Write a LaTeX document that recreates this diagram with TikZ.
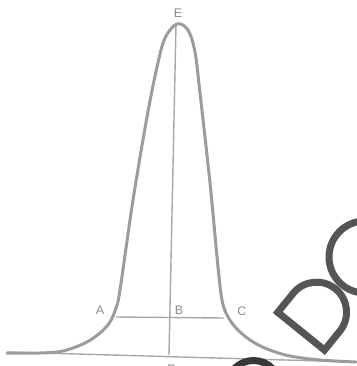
\documentclass[tikz,border=0pt]{standalone}
\usepackage{fontspec}
\setmainfont{Liberation Sans}
\definecolor{curvegray}{HTML}{9C9C9C}
\definecolor{linegray}{HTML}{A8A8A8}
\definecolor{labelgray}{HTML}{8C8C8C}
\definecolor{wmgray}{HTML}{555555}
\definecolor{wmdark}{HTML}{383838}
\begin{document}
\begin{tikzpicture}[x=1pt,y=-1pt,
  curveline/.style={draw=curvegray,line width=3pt,line cap=round,line join=round},
  thinline/.style={draw=linegray,line width=1.4pt},
  ptlabel/.style={text=labelgray,font=\fontsize{12.5}{14}\selectfont,inner sep=0pt},
  watermark/.style={draw=wmgray,line width=7pt,line join=miter}]
\useasboundingbox[fill=white] (0,0) rectangle (356,366);

% named points
\coordinate (top) at (176,25);
\coordinate (bot) at (169,355);
\coordinate (pa) at (116,317);
\coordinate (pc) at (224,318);
\coordinate (bl) at (7,352);
\coordinate (br) at (356,362);

% baseline, axis and width line
\draw[thinline] (bl) -- (br);
\draw[thinline] (top) -- (bot);
\draw[thinline] (pa) -- (pc);

% peak curve
\draw[curveline] plot[smooth,tension=0.55] coordinates {
 (7,353) (40,353) (63,351) (85,343) (100,333) (110,322) (116,308) (120,290)
 (133,200) (147,117) (157,67) (165,38) (177,24) (188,30) (195,52) (200,93)
 (210,183) (218,267) (222,300) (227,315) (236,328) (250,340) (267,349)
 (290,356) (320,360) (356,362)};

% labels
\node[ptlabel] (E) at (178,13) {E};
\node[ptlabel] (A) at (100,310) {A};
\node[ptlabel] (B) at (179,310) {B};
\node[ptlabel] (C) at (242,311) {C};
\node[ptlabel] (D) at (172,369) {D};

% watermark letters
\begin{scope}[shift={(325pt,-355pt)},x={(0.629pt,0.778pt)},y={(-0.778pt,0.629pt)}]
  \draw[watermark] (3.5,3.5) -- (3.5,63.5) -- (28,63.5)
     arc[start angle=90,end angle=-90,x radius=30,y radius=30] -- cycle;
\end{scope}
\draw[watermark] (365,257) circle[radius=36];
\draw[draw=wmdark,line width=7pt] (253.5,387) circle[radius=26.5];
\end{tikzpicture}
\end{document}
